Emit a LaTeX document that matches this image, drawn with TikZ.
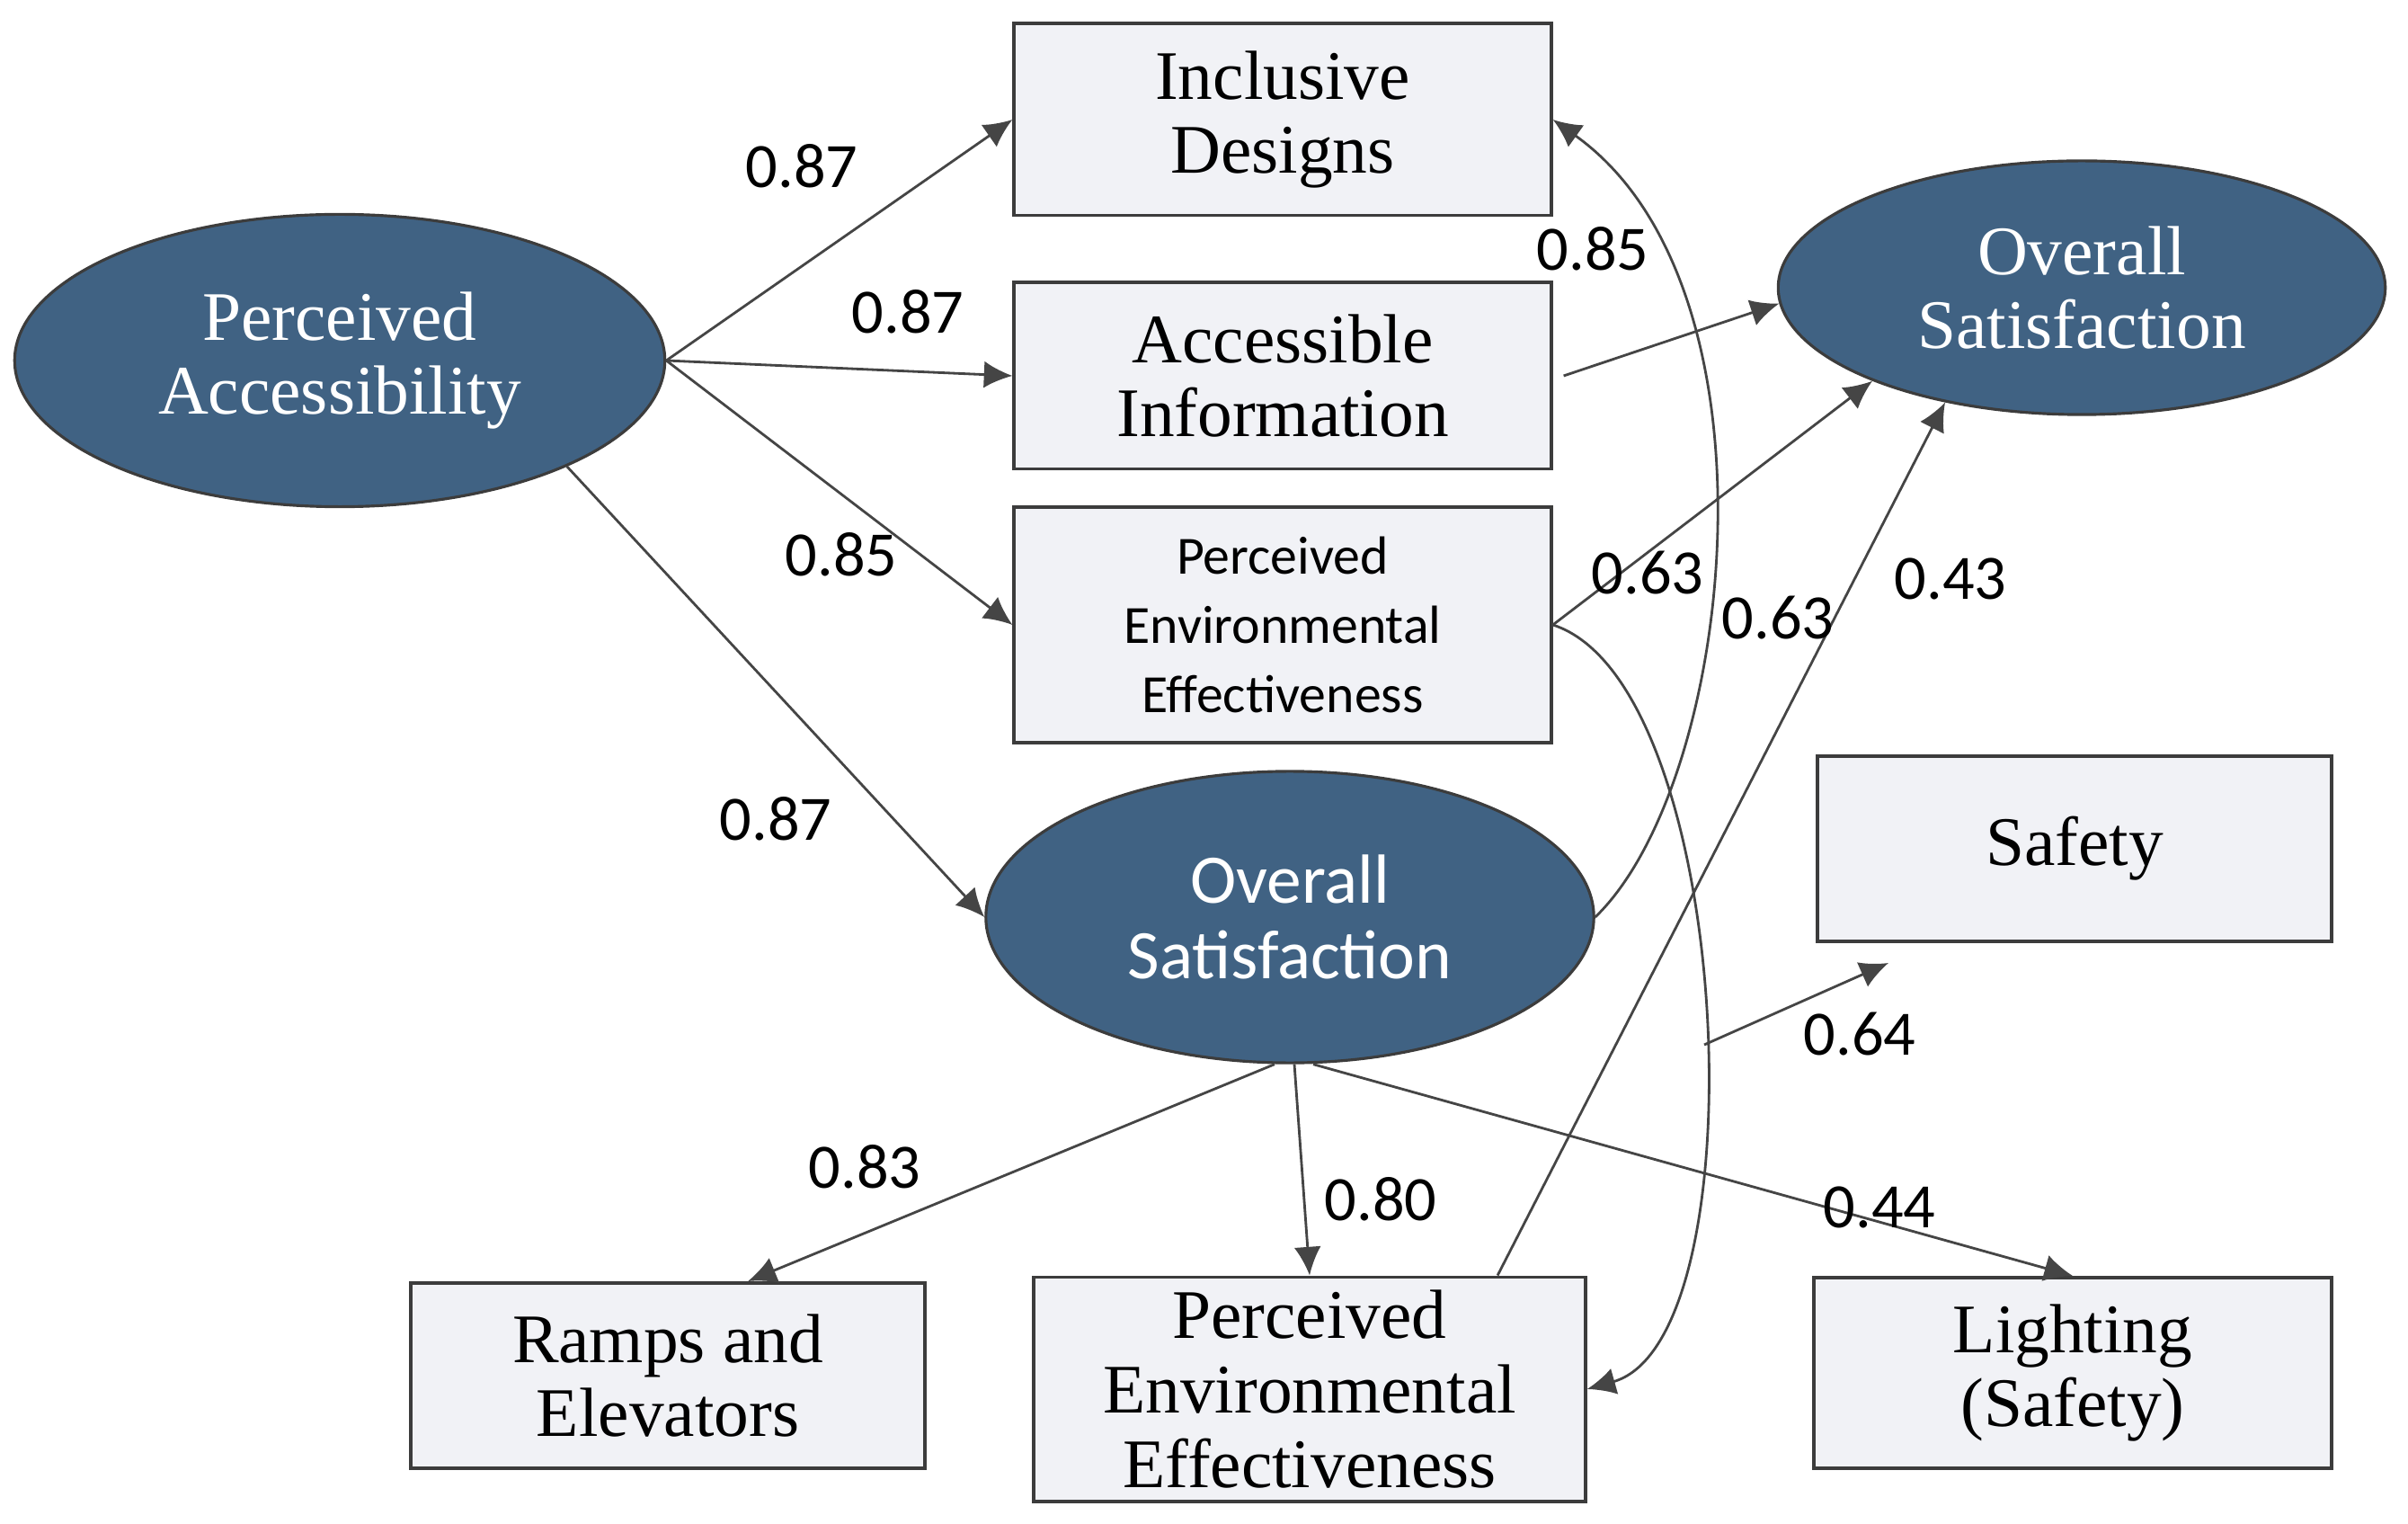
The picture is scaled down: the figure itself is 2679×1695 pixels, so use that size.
\documentclass[tikz,border=0pt]{standalone}
\usepackage{fontspec}
\setmainfont{Liberation Serif}
\newfontfamily\carl{Carlito}
\usetikzlibrary{arrows.meta,shapes.geometric}
\definecolor{ellfill}{HTML}{406283}
\definecolor{boxfill}{HTML}{F1F2F6}
\definecolor{edgec}{HTML}{3C3C3C}
\definecolor{arrowc}{HTML}{454545}
\begin{document}
\begin{tikzpicture}[x=0.01cm,y=-0.01cm,
  latent/.style={ellipse, draw=edgec, line width=0.9pt, fill=ellfill, text=white, align=center, inner sep=0pt},
  obs/.style={rectangle, draw=edgec, line width=1.1pt, fill=boxfill, align=center, inner sep=0pt},
  serif/.style={font=\fontsize{22}{23.5}\selectfont},
  sansbig/.style={font=\carl\fontsize{22}{24}\selectfont},
  sanssmall/.style={font=\carl\fontsize{17}{22}\selectfont},
  path/.style={draw=arrowc, line width=0.8pt, -{Latex[length=9pt,width=8.5pt]}},
  coef/.style={font=\carl\fontsize{20}{22}\selectfont, inner sep=0pt}]
\useasboundingbox (0,0) rectangle (2679,1695);
% latent variables
\node[latent, serif, minimum width=7.23cm, minimum height=3.25cm] (pa) at (378,401) {Perceived\\Accessibility};
\node[latent, serif, minimum width=6.75cm, minimum height=2.82cm] (osr) at (2316,320) {Overall\\Satisfaction};
\node[latent, sansbig, minimum width=6.76cm, minimum height=3.24cm] (osm) at (1435,1020) {Overall\\Satisfaction};
% observed
\node[obs, serif, minimum width=5.97cm, minimum height=2.13cm] (id) at (1427,133) {Inclusive\\Designs};
\node[obs, serif, minimum width=5.97cm, minimum height=2.07cm] (ai) at (1427,418) {Accessible\\Information};
\node[obs, sanssmall, minimum width=5.97cm, minimum height=2.61cm] (pee) at (1427,695) {Perceived\\Environmental\\Effectiveness};
\node[obs, serif, minimum width=5.71cm, minimum height=2.06cm] (saf) at (2308,944) {Safety};
\node[obs, serif, minimum width=5.71cm, minimum height=2.06cm] (ramp) at (743,1530) {Ramps and\\Elevators};
\node[obs, serif, minimum width=6.13cm, minimum height=2.49cm] (peeb) at (1457,1545) {Perceived\\Environmental\\Effectiveness};
\node[obs, serif, minimum width=5.75cm, minimum height=2.12cm] (light) at (2306,1527) {Lighting\\(Safety)};
% paths
\draw[path] (pa.east) -- (id.west);
\draw[path] (pa.east) -- (ai.west);
\draw[path] (pa.east) -- (pee.west);
\draw[path] (pa.-25) -- (osm.west);
\draw[path] ([xshift=0.12cm]ai.east) -- (osr.183);
\draw[path] (pee.east) -- (osr.204);
\draw[path] ([xshift=2.09cm]peeb.north) -- (osr.220);
\draw[path] (osm.east) .. controls (1930,870) and (1990,320) .. (id.east);
\draw[path] (pee.east) .. controls (1930,760) and (1960,1490) .. (peeb.east);
\coordinate (s0) at (1896,1162);
\coordinate (s1) at (2101,1071);
\draw[path] (s0) -- (s1);
\draw[path] ([xshift=-0.17cm]osm.south) -- ([xshift=0.89cm]ramp.north);
\draw[path] ([xshift=0.05cm]osm.south) -- (peeb.north);
\draw[path] ([xshift=0.26cm]osm.south) -- (light.north);
% coefficients
\node[coef] (c1) at (892,185) {0.87};
\node[coef] (c2) at (1010,347) {0.87};
\node[coef] (c3) at (936,617) {0.85};
\node[coef] (c4) at (863,911) {0.87};
\node[coef] (c5) at (1772,277) {0.85};
\node[coef] (c6) at (1833,637) {0.63};
\node[coef] (c7) at (1978,687) {0.63};
\node[coef] (c8) at (2170,644) {0.43};
\node[coef] (c9) at (2069,1150) {0.64};
\node[coef] (c10) at (962,1298) {0.83};
\node[coef] (c11) at (1536,1334) {0.80};
\node[coef] (c12) at (2091,1343) {0.44};
\end{tikzpicture}
\end{document}
